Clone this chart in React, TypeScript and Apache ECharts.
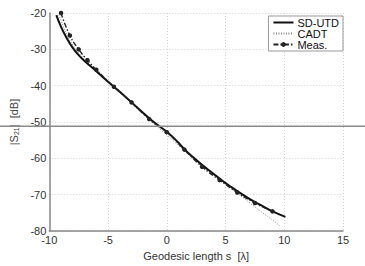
import React, { useEffect, useRef } from "react";
import * as echarts from "echarts";

const sdUtdX = [-9.4, -9, -8.5, -8, -7.5, -7, -6, -5, -4, -3, -2, -1, 0, 1, 1.5, 2, 3, 4, 5, 6, 7, 8, 9, 10.1];
const sdUtdY = [-20.6, -23.8, -27.0, -29.6, -31.6, -33.2, -36.0, -38.9, -41.7, -44.6, -47.5, -50.3, -52.7, -55.7, -57.5, -59.0, -61.8, -64.3, -66.8, -69.0, -71.1, -72.9, -74.6, -76.1];

const cadtX = [-9.2, -9, -8.5, -8, -7, -6, -5, -4, -3, -2, -1, 0, 1, 2, 3, 4, 5, 6, 7, 8, 9, 9.6];
const cadtY = [-20.5, -22.0, -26.0, -28.8, -32.8, -35.9, -38.9, -41.8, -44.8, -47.8, -50.8, -53.5, -56.5, -59.4, -62.1, -64.6, -67.1, -69.6, -72.1, -74.6, -77.0, -78.5];

const measX = [-9, -8.25, -7.5, -6.75, -6, -4.5, -3, -1.5, 0, 1.5, 3, 4.5, 6, 7.5, 9];
const measY = [-20, -26.2, -30, -33, -35.6, -40.3, -44.6, -49.2, -52.8, -57.6, -62.3, -66.0, -69.4, -72.3, -74.6];

const xTicks = [-10, -5, 0, 5, 10, 15];
const yTicks = [-80, -70, -60, -50, -40, -30, -20];
const hLineValue = -51.2;

const zip = (xs: number[], ys: number[]) => xs.map((x, i) => [x, ys[i]]);

export default function App() {
  const ref = useRef<HTMLDivElement>(null);
  useEffect(() => {
    if (!ref.current) return;
    const chart = echarts.init(ref.current, null, { renderer: "svg" });
    const font = "Liberation Sans, Arial, sans-serif";
    chart.setOption({
      animation: false,
      backgroundColor: "#fff",
      textStyle: { fontFamily: font },
      grid: { left: 45, right: 22, top: 13, bottom: 20 },
      legend: {
        orient: "vertical",
        right: 22,
        top: 16,
        width: 71,
        itemGap: 0,
        itemWidth: 20,
        itemHeight: 6,
        padding: [1, 4, 1, 4],
        backgroundColor: "#fff",
        borderColor: "#999",
        borderWidth: 1,
        textStyle: { fontSize: 11, color: "#111", fontFamily: font, padding: [0, 0, 0, -1] },
        data: [
          { name: "SD-UTD", itemStyle: { opacity: 0 } },
          { name: "CADT", itemStyle: { opacity: 0 } },
          { name: "Meas." },
        ],
      },
      xAxis: {
        type: "value",
        min: xTicks[0],
        max: xTicks[xTicks.length - 1],
        interval: 5,
        name: "Geodesic length s  [λ]",
        nameLocation: "middle",
        nameGap: 19,
        nameTextStyle: { fontSize: 11, color: "#333", fontFamily: font },
        axisLine: { show: true, onZero: false, lineStyle: { color: "#888", width: 1.5 } },
        axisTick: { show: false },
        axisLabel: { fontSize: 11, color: "#333", margin: 3, fontFamily: font },
        splitLine: { show: true, lineStyle: { color: "#d4d4d4", type: [1, 2] } },
      },
      yAxis: {
        type: "value",
        min: yTicks[0],
        max: yTicks[yTicks.length - 1],
        interval: 10,
        name: "{a||S}{b|21}{a||  [dB]}",
        nameLocation: "middle",
        nameGap: 24,
        nameRotate: 90,
        nameTextStyle: {
          fontSize: 11,
          color: "#444",
          fontFamily: font,
          rich: {
            a: { fontSize: 11, color: "#444", fontFamily: font },
            b: { fontSize: 7, color: "#444", fontFamily: font, verticalAlign: "bottom", padding: [5, 0, 0, 0] },
          },
        },
        axisLine: { show: true, onZero: false, lineStyle: { color: "#888", width: 1.5 } },
        axisTick: { show: false },
        axisLabel: { fontSize: 11, color: "#333", margin: 3, fontFamily: font },
        splitLine: { show: true, lineStyle: { color: "#d4d4d4", type: [1, 2] } },
      },
      series: [
        {
          name: "SD-UTD",
          type: "line",
          data: zip(sdUtdX, sdUtdY),
          smooth: true,
          symbol: "none",
          lineStyle: { color: "#111", width: 2 },
          itemStyle: { color: "#111" },
          z: 3,
        },
        {
          name: "CADT",
          type: "line",
          data: zip(cadtX, cadtY),
          smooth: true,
          symbol: "none",
          lineStyle: { color: "#888", width: 1, type: [1, 1.5] },
          itemStyle: { color: "#888" },
          z: 2,
        },
        {
          name: "Meas.",
          type: "line",
          data: zip(measX, measY),
          smooth: true,
          symbol: "circle",
          symbolSize: 4.5,
          lineStyle: { color: "#222", width: 1.4, type: [5, 2, 1.5, 2] },
          itemStyle: { color: "#222" },
          z: 4,
        },
      ],
    });
    const y = chart.convertToPixel({ yAxisIndex: 0 }, hLineValue) as number;
    chart.setOption({
      graphic: [
        {
          type: "line",
          shape: { x1: 0, y1: y, x2: 365, y2: y },
          style: { stroke: "#8a8a8a", lineWidth: 1.5 },
          z: 10,
        },
      ],
    });
    return () => chart.dispose();
  }, []);
  return <div ref={ref} style={{ width: 365, height: 266, position: "absolute", left: 0, top: 0 }} />;
}
